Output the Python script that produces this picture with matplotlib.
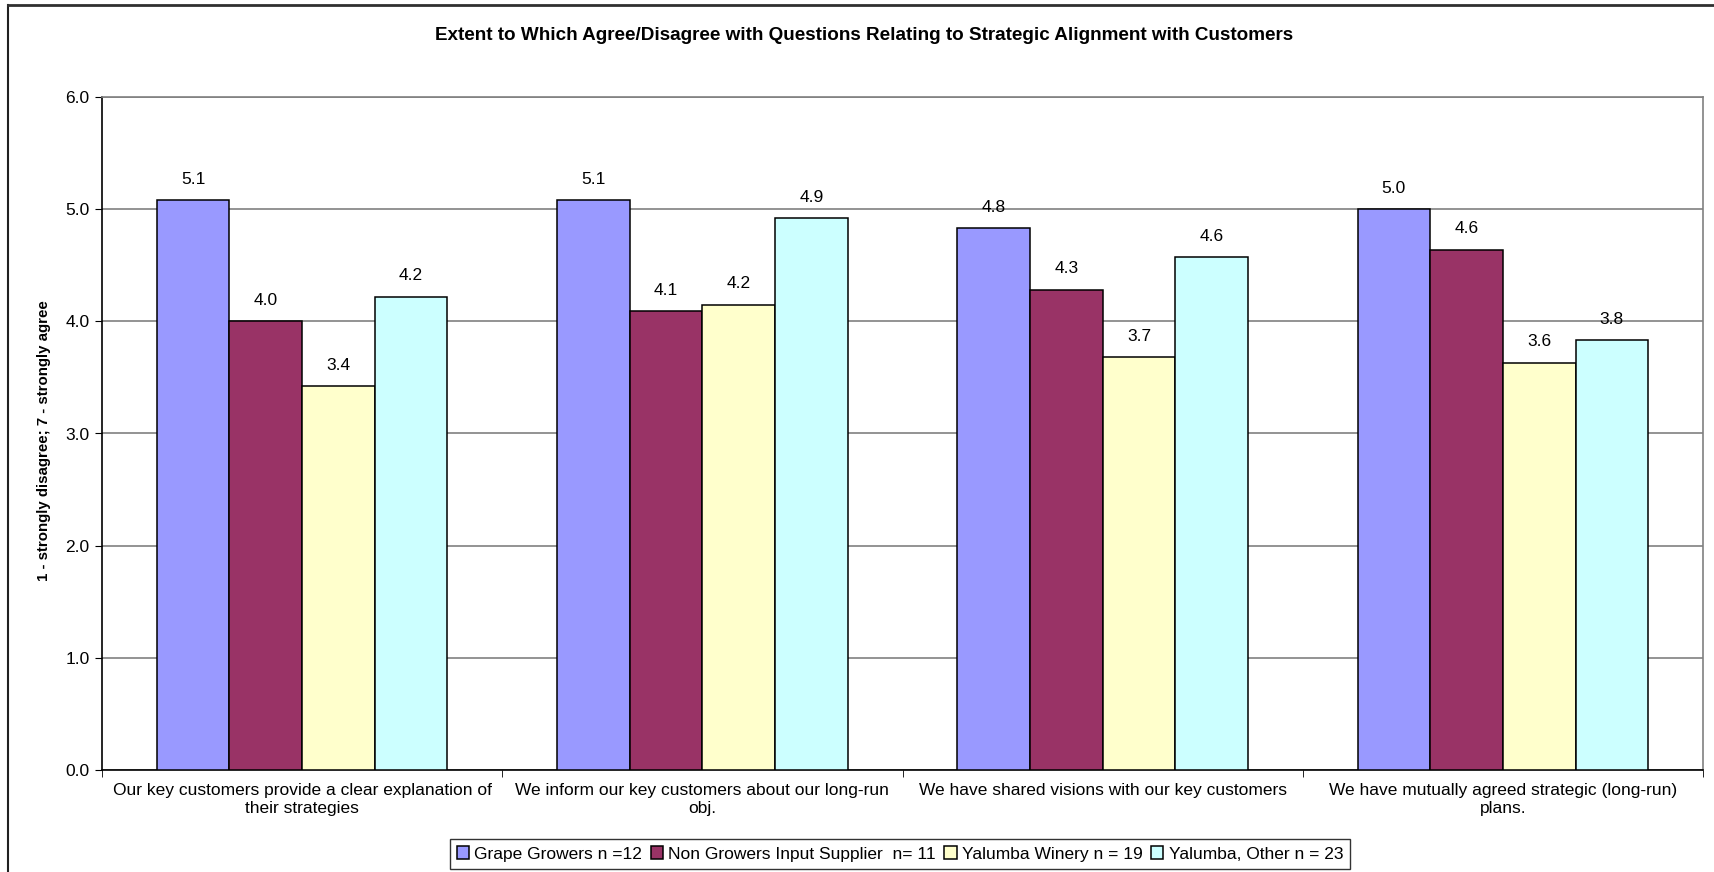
import matplotlib.pyplot as plt
import numpy as np
from matplotlib.lines import Line2D

plt.rcParams['font.family'] = ['Liberation Sans', 'DejaVu Sans']

categories = [
    "Our key customers provide a clear explanation of\ntheir strategies",
    "We inform our key customers about our long-run\nobj.",
    "We have shared visions with our key customers",
    "We have mutually agreed strategic (long-run)\nplans.",
]
series_names = [
    "Grape Growers n =12",
    "Non Growers Input Supplier  n= 11",
    "Yalumba Winery n = 19",
    "Yalumba, Other n = 23",
]
grape_growers = [5.08, 5.08, 4.83, 5.00]
non_growers = [4.00, 4.09, 4.28, 4.64]
yalumba_winery = [3.42, 4.15, 3.68, 3.63]
yalumba_other = [4.22, 4.92, 4.57, 3.83]
values = [grape_growers, non_growers, yalumba_winery, yalumba_other]
colors = ['#9999FF', '#993366', '#FFFFCC', '#CCFFFF']

fig = plt.figure(figsize=(17.15, 8.72), dpi=100)
ax = fig.add_axes([102 / 1715, 1 - 770 / 872, (1703 - 102) / 1715, (770 - 97) / 872])

x = np.arange(len(categories))
w = 0.1815
for i, (vals, c, name) in enumerate(zip(values, colors, series_names)):
    pos = x + (i - 1.5) * w
    bars = ax.bar(pos, vals, w, color=c, edgecolor='black', linewidth=1.1,
                  label=name, zorder=3)
    for b, v in zip(bars, vals):
        ax.text(b.get_x() + b.get_width() / 2, v + 0.12, f"{v:.1f}",
                ha='center', va='bottom', fontsize=12.5)

ax.set_xlim(-0.5, len(categories) - 0.5)
ax.set_ylim(0, 6)
ax.set_yticks(np.arange(0, 6.01, 1.0))
ax.set_yticklabels([f"{t:.1f}" for t in np.arange(0, 6.01, 1.0)], fontsize=12.5)
ax.yaxis.grid(True, color='#808080', linewidth=1.2, zorder=0)
ax.set_axisbelow(True)

ax.set_xticks(x)
ax.set_xticklabels(categories, fontsize=12.5, linespacing=1.25)
ax.tick_params(axis='x', length=0, pad=9)
ax.set_xticks(np.arange(-0.5, len(categories)), minor=True)
ax.tick_params(axis='x', which='minor', length=5, direction='out', color='black')
ax.tick_params(axis='y', length=5, direction='out', color='black', pad=4)

ax.spines['left'].set_color('black')
ax.spines['bottom'].set_color('black')
ax.spines['top'].set_color('#808080')
ax.spines['right'].set_color('#808080')
for s in ax.spines.values():
    s.set_linewidth(1.2)

ax.set_ylabel("1 - strongly disagree; 7 - strongly agree", fontsize=10.8,
              fontweight='bold')
ax.yaxis.set_label_coords(-0.032, 0.49)
fig.text(864 / 1715, 1 - 36 / 872,
         "Extent to Which Agree/Disagree with Questions Relating to Strategic Alignment with Customers",
         ha='center', va='center', fontsize=13.6, fontweight='bold')

leg = fig.legend(loc='center', bbox_to_anchor=(900 / 1715, 1 - 854 / 872), ncol=4,
                 fontsize=12.5, frameon=True, fancybox=False, edgecolor='black',
                 handlelength=0.7, handleheight=0.7, handletextpad=0.3,
                 columnspacing=0.5, borderpad=0.4, borderaxespad=0)
leg.get_frame().set_linewidth(1.0)

# outer chart border
fig.add_artist(Line2D([8.5 / 1715, 8.5 / 1715], [0, 1 - 5.5 / 872], color='#202020', lw=1.5))
fig.add_artist(Line2D([8.5 / 1715, 1], [1 - 5.5 / 872, 1 - 5.5 / 872], color='#303030', lw=2))

fig.savefig('out.png', dpi=100)
